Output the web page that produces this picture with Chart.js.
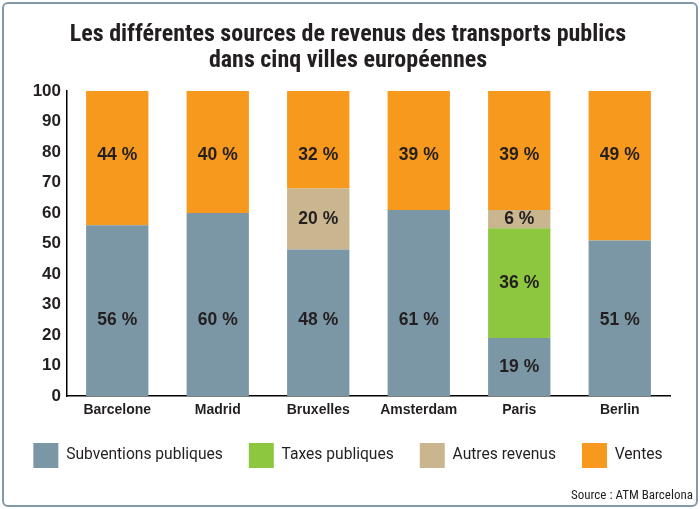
<!DOCTYPE html>
<html>
<head>
<meta charset="utf-8">
<script src="https://cdn.jsdelivr.net/npm/chart.js@4"></script>
<style>
  html, body { margin: 0; padding: 0; background: #fff; }
  #cadre-page { position: relative; width: 700px; height: 509px; }
  #bordure { position: absolute; left: 2px; top: 2px; width: 692px; height: 501px; border: 2px solid #8399aa; border-radius: 6px; }
  canvas { position: absolute; left: 0; top: 0; }
</style>
</head>
<body>
<div id="cadre-page">
  <div id="bordure"></div>
  <canvas id="graphique" width="700" height="509"></canvas>
</div>
<script>
// Données (en %)
const villes = ["Barcelone", "Madrid", "Bruxelles", "Amsterdam", "Paris", "Berlin"];
const subventions = [56, 60, 48, 61, 19, 51];
const taxes = [0, 0, 0, 0, 36, 0];
const autres = [0, 0, 20, 0, 6, 0];
const ventes = [44, 40, 32, 39, 39, 49];
const titre = ["Les différentes sources de revenus des transports publics", "dans cinq villes européennes"];
const source = "Source : ATM Barcelona";

const police = "'Liberation Sans', Arial, sans-serif";
const policeLegende = "Roboto, 'Liberation Sans', sans-serif";
const policeEtroite = "'Roboto Condensed', 'Liberation Sans', sans-serif";
const encre = "#231f20";

// Pourcentages écrits dans les barres
const etiquettes = {
  id: "etiquettes",
  afterDatasetsDraw(chart) {
    const ctx = chart.ctx;
    const echelleY = chart.scales.y;
    const dernier = chart.data.datasets.length - 1;
    ctx.save();
    ctx.font = "bold 17.5px " + police;
    ctx.fillStyle = encre;
    ctx.textAlign = "center";
    ctx.textBaseline = "middle";
    chart.data.datasets.forEach((ds, i) => {
      chart.getDatasetMeta(i).data.forEach((barre, j) => {
        const v = ds.data[j];
        if (!v) return;
        let y = (barre.y + barre.base) / 2;
        // comme sur l'original, les grands blocs ont leur texte à hauteur fixe
        if (i === dernier) y = echelleY.getPixelForValue(79);
        else if (i === 0 && v >= 40) y = echelleY.getPixelForValue(25);
        ctx.fillText(v + " %", barre.x, y);
      });
    });
    ctx.restore();
  }
};

// Mention de la source en bas à droite
const mentionSource = {
  id: "mentionSource",
  afterDraw(chart) {
    const ctx = chart.ctx;
    ctx.save();
    ctx.font = "13px " + policeEtroite;
    ctx.fillStyle = encre;
    ctx.textAlign = "right";
    ctx.textBaseline = "middle";
    ctx.fillText(source, chart.width - 7, chart.height - 13);
    ctx.restore();
  }
};

new Chart(document.getElementById("graphique"), {
  type: "bar",
  data: {
    labels: villes,
    datasets: [
      { label: "Subventions publiques", data: subventions, backgroundColor: "#7b97a5" },
      { label: "Taxes publiques", data: taxes, backgroundColor: "#8dc63f" },
      { label: "Autres revenus", data: autres, backgroundColor: "#c9b68f" },
      { label: "Ventes", data: ventes, backgroundColor: "#f7991c" },
    ],
  },
  options: {
    responsive: false,
    devicePixelRatio: 1,
    animation: false,
    datasets: {
      bar: { barPercentage: 0.62, categoryPercentage: 1, borderWidth: 0 },
    },
    layout: { padding: { left: 3, right: 7, top: 0, bottom: 31 } },
    plugins: {
      title: {
        display: true,
        text: titre,
        color: encre,
        font: { family: policeEtroite, weight: "bold", size: 24, lineHeight: 26 / 24 },
        padding: { top: 22, bottom: 17 },
      },
      legend: {
        position: "bottom",
        labels: {
          boxWidth: 25,
          boxHeight: 25,
          padding: 26,
          color: encre,
          font: { family: policeLegende, size: 15.6 },
        },
      },
      tooltip: { enabled: false },
    },
    scales: {
      x: {
        stacked: true,
        afterFit(echelle) { echelle.height = 21; },
        grid: { display: false, drawTicks: false },
        border: { display: true, color: "#000", width: 1.5 },
        ticks: { color: encre, padding: 6, font: { family: police, weight: "bold", size: 14 } },
      },
      y: {
        stacked: true,
        min: 0,
        max: 100,
        afterFit(echelle) { echelle.width = 64; },
        grid: { display: false, drawTicks: false },
        border: { display: true, color: "#000", width: 1.5 },
        ticks: { stepSize: 10, color: encre, padding: 6, font: { family: police, weight: "bold", size: 17 } },
      },
      // marge droite invisible, pour que la légende garde toute la largeur
      droite: {
        type: "linear",
        position: "right",
        afterFit(echelle) { echelle.width = 23; },
        grid: { display: false, drawTicks: false },
        border: { display: false },
        ticks: { display: false },
      },
    },
  },
  plugins: [etiquettes, mentionSource],
});
</script>
</body>
</html>
